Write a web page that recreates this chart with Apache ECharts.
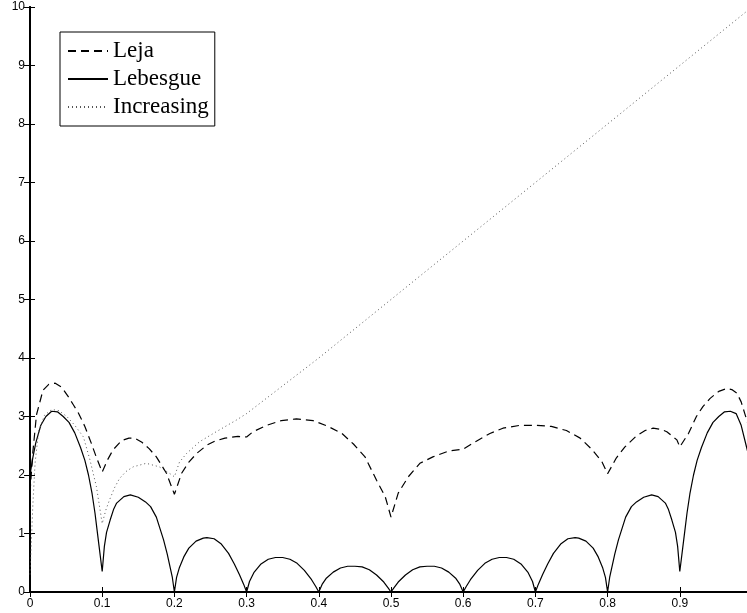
<!DOCTYPE html>
<html>
<head>
<meta charset="utf-8">
<script src="https://cdn.jsdelivr.net/npm/echarts@6.0.0/dist/echarts.min.js"></script>
<style>
    html, body { margin: 0; padding: 0; background: #fff; }
    #myChart { width: 747px; height: 613px; }
</style>
</head>
<body>
<div id="myChart"></div>
<script>
// 曲线数据 (x, y 分开存放)
var lejaX = [0, 0.004, 0.009, 0.018, 0.026, 0.035, 0.044, 0.053, 0.06, 0.067, 0.076, 0.085, 0.092, 0.1,
    0.107, 0.115, 0.127, 0.137, 0.145, 0.155, 0.165, 0.175, 0.189, 0.2,
    0.21, 0.22, 0.231, 0.245, 0.256, 0.27, 0.288, 0.3,
    0.309, 0.328, 0.348, 0.369, 0.392, 0.413, 0.432, 0.448, 0.464, 0.48, 0.492, 0.5,
    0.51, 0.524, 0.54, 0.558, 0.58, 0.6,
    0.617, 0.637, 0.655, 0.679, 0.701, 0.722, 0.743, 0.762, 0.778, 0.792, 0.8,
    0.812, 0.824, 0.84, 0.852, 0.863, 0.874, 0.882, 0.896, 0.9,
    0.912, 0.923, 0.932, 0.942, 0.954, 0.965, 0.972, 0.979, 0.985, 0.99, 0.995, 1]
var lejaY = [1.7, 2.4, 3.03, 3.45, 3.55, 3.57, 3.5, 3.34, 3.2, 3.06, 2.83, 2.54, 2.3, 2.05,
    2.25, 2.43, 2.59, 2.63, 2.63, 2.56, 2.45, 2.31, 2.03, 1.67,
    2.03, 2.22, 2.37, 2.51, 2.58, 2.63, 2.66, 2.65,
    2.74, 2.85, 2.93, 2.96, 2.93, 2.83, 2.71, 2.53, 2.31, 1.91, 1.63, 1.28,
    1.69, 1.97, 2.2, 2.31, 2.41, 2.44,
    2.57, 2.71, 2.8, 2.85, 2.85, 2.83, 2.76, 2.63, 2.44, 2.23, 2.02,
    2.29, 2.48, 2.67, 2.76, 2.8, 2.78, 2.74, 2.6, 2.48,
    2.71, 3.0, 3.17, 3.31, 3.43, 3.48, 3.46, 3.4, 3.25, 3.05, 2.85, 2.6]

var lebesgueX = [0, 0.004, 0.008, 0.015, 0.022, 0.03, 0.038, 0.046, 0.054, 0.062, 0.07, 0.076, 0.081, 0.086, 0.09, 0.093, 0.096, 0.1,
    0.103, 0.106, 0.111, 0.116, 0.12, 0.13, 0.139, 0.15, 0.16, 0.167, 0.175, 0.185, 0.19, 0.197, 0.2,
    0.203, 0.207, 0.213, 0.22, 0.23, 0.24, 0.245, 0.255, 0.265, 0.275, 0.283, 0.29, 0.296, 0.3,
    0.304, 0.31, 0.32, 0.33, 0.34, 0.35, 0.36, 0.37, 0.38, 0.39, 0.396, 0.4,
    0.405, 0.41, 0.42, 0.43, 0.44, 0.45, 0.46, 0.47, 0.48, 0.49, 0.496, 0.5,
    0.504, 0.51, 0.52, 0.53, 0.54, 0.55, 0.56, 0.57, 0.58, 0.59, 0.595, 0.6,
    0.604, 0.61, 0.62, 0.63, 0.64, 0.65, 0.66, 0.67, 0.68, 0.69, 0.696, 0.7,
    0.704, 0.71, 0.717, 0.725, 0.735, 0.745, 0.755, 0.76, 0.77, 0.78, 0.787, 0.793, 0.797, 0.8,
    0.803, 0.81, 0.815, 0.825, 0.833, 0.84, 0.85, 0.861, 0.87, 0.88, 0.884, 0.889, 0.894, 0.897, 0.9,
    0.904, 0.907, 0.91, 0.914, 0.919, 0.924, 0.93, 0.938, 0.946, 0.954, 0.962, 0.97, 0.978, 0.985, 0.992, 0.996, 1]
var lebesgueY = [2.0, 2.3, 2.55, 2.85, 3.0, 3.09, 3.08, 3.0, 2.9, 2.72, 2.47, 2.25, 2.0, 1.68, 1.35, 1.05, 0.75, 0.35,
    0.78, 1.02, 1.23, 1.42, 1.52, 1.63, 1.66, 1.62, 1.54, 1.46, 1.28, 0.89, 0.65, 0.26, 0,
    0.25, 0.42, 0.6, 0.75, 0.87, 0.92, 0.93, 0.91, 0.82, 0.66, 0.48, 0.3, 0.13, 0,
    0.18, 0.33, 0.48, 0.56, 0.59, 0.59, 0.56, 0.49, 0.37, 0.21, 0.09, 0,
    0.14, 0.23, 0.34, 0.41, 0.44, 0.44, 0.43, 0.38, 0.29, 0.17, 0.07, 0,
    0.07, 0.17, 0.29, 0.38, 0.43, 0.44, 0.44, 0.41, 0.34, 0.23, 0.14, 0,
    0.09, 0.21, 0.37, 0.49, 0.56, 0.59, 0.59, 0.56, 0.48, 0.33, 0.18, 0,
    0.13, 0.3, 0.48, 0.66, 0.82, 0.91, 0.93, 0.92, 0.87, 0.75, 0.6, 0.42, 0.25, 0,
    0.26, 0.65, 0.89, 1.28, 1.46, 1.54, 1.62, 1.66, 1.63, 1.52, 1.42, 1.23, 1.02, 0.78, 0.35,
    0.75, 1.05, 1.35, 1.68, 2.0, 2.25, 2.47, 2.72, 2.9, 3.0, 3.08, 3.09, 3.05, 2.85, 2.5, 2.3, 2.0]

var increasingX = [0, 0.002, 0.004, 0.007, 0.012, 0.02, 0.03, 0.04, 0.051, 0.062, 0.074, 0.083, 0.092, 0.1,
    0.105, 0.11, 0.117, 0.124, 0.133, 0.143, 0.161, 0.179, 0.193, 0.2,
    0.207, 0.217, 0.235, 0.258, 0.286, 0.3, 0.4, 0.5, 0.6, 0.7, 0.8, 0.9, 1]
var increasingY = [0.3, 0.9, 1.5, 2.2, 2.75, 3.02, 3.12, 3.1, 3.0, 2.85, 2.65, 2.26, 1.8, 1.17,
    1.4, 1.57, 1.78, 1.94, 2.06, 2.14, 2.2, 2.14, 2.03, 1.97,
    2.22, 2.37, 2.57, 2.74, 2.94, 3.05, 4.0, 5.0, 6.0, 7.0, 8.0, 9.0, 10.0]

var names = ['Leja', 'Lebesgue', 'Increasing']

function pairs (xs, ys) {
    var out = []
    for (var i = 0; i < xs.length; i++) {
        out.push([xs[i], ys[i]])
    }
    return out
}

var myChart = echarts.init(document.getElementById('myChart'))

var labelFont = {
    fontFamily: 'Liberation Sans',
    fontSize: 12,
    color: '#000'
}
var frameLine = {lineStyle: {color: '#000', width: 2}}
var frameTick = {inside: true, length: 5, lineStyle: {color: '#000', width: 1}}

myChart.setOption({
    animation: false,
    backgroundColor: '#fff',
    grid: {left: 30, top: 7, width: 722, height: 585, outerBoundsMode: 'none'},
    legend: {
        data: names,
        orient: 'vertical',
        left: 60,
        top: 32,
        padding: [5, 6, 5, 7],
        itemGap: 0,
        itemWidth: 40,
        itemHeight: 14,
        borderColor: '#000',
        borderWidth: 1,
        backgroundColor: '#fff',
        // 图例只保留线段, 不要圆点
        itemStyle: {color: 'rgba(0,0,0,0)', borderWidth: 0, opacity: 0},
        textStyle: {
            fontFamily: 'Liberation Serif',
            fontSize: 23,
            lineHeight: 28,
            color: '#000'
        }
    },
    xAxis: [{
        type: 'value',
        min: 0,
        max: 1,
        interval: 0.1,
        position: 'bottom',
        axisLine: frameLine,
        axisTick: frameTick,
        axisLabel: Object.assign({margin: 6}, labelFont),
        splitLine: {show: false}
    }, {
        type: 'value',
        min: 0,
        max: 1,
        interval: 0.1,
        position: 'top',
        axisLine: frameLine,
        axisTick: frameTick,
        axisLabel: {show: false},
        splitLine: {show: false}
    }],
    yAxis: [{
        type: 'value',
        min: 0,
        max: 10,
        interval: 1,
        position: 'left',
        axisLine: frameLine,
        axisTick: frameTick,
        axisLabel: Object.assign({margin: 5}, labelFont),
        splitLine: {show: false}
    }, {
        type: 'value',
        min: 0,
        max: 10,
        interval: 1,
        position: 'right',
        axisLine: frameLine,
        axisTick: {inside: true, length: 6, lineStyle: {color: '#000', width: 1}},
        axisLabel: {show: false},
        splitLine: {show: false}
    }],
    series: [{
        name: names[0],
        type: 'line',
        symbol: 'none',
        data: pairs(lejaX, lejaY),
        itemStyle: {color: '#000'},
        lineStyle: {color: '#000', width: 1.2, type: [8, 5]}
    }, {
        name: names[1],
        type: 'line',
        symbol: 'none',
        data: pairs(lebesgueX, lebesgueY),
        itemStyle: {color: '#000'},
        lineStyle: {color: '#000', width: 1.2, type: 'solid'}
    }, {
        name: names[2],
        type: 'line',
        symbol: 'none',
        data: pairs(increasingX, increasingY),
        itemStyle: {color: '#555'},
        lineStyle: {color: '#555', width: 1, type: [1, 3]}
    }]
})
</script>
</body>
</html>
